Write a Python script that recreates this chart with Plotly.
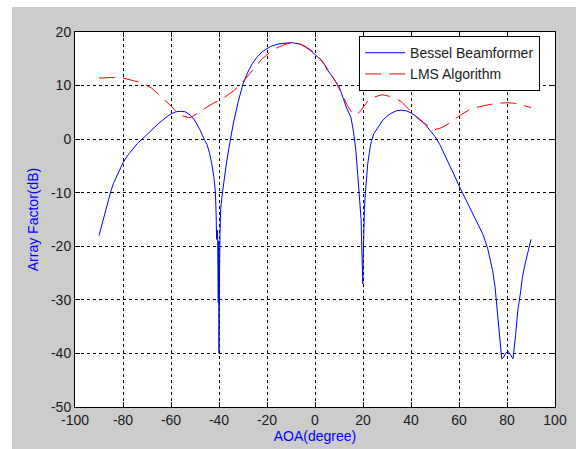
import plotly.graph_objects as go

# Bessel beamformer array factor (dB)
bessel_aoa = [-90, -89, -88, -87, -86, -85, -84, -82, -80, -78, -76, -74, -72, -68, -65, -62, -60, -58,
              -56, -54, -52, -50, -48, -46, -45, -44, -43, -42, -41.5, -41.2, -41.0, -40.6, -40.4, -40.3,
              -40.1, -40.0, -39.9, -39.6, -39.3, -38.7, -38, -37, -36, -35, -34, -32, -30, -28, -26, -24,
              -22, -20, -18, -15, -12, -10, -8, -6, -4, -2, 0, 2, 4, 5, 7, 9, 10, 11, 12, 13, 14, 15, 16,
              16.5, 17, 17.8, 18.5, 19, 19.2, 19.6, 19.9, 20.1, 20.3, 20.6, 21, 21.4, 22, 23, 23.5, 24.5,
              26, 28, 30, 32, 34, 36, 38, 40, 42, 44, 46, 48, 50, 52, 54, 56, 58, 60, 62, 64, 66, 68, 70,
              72, 74, 75, 76, 77, 77.8, 78.5, 79.5, 80.5, 81.5, 82.5, 83.6, 84.5, 85.7, 86.5, 87.8, 89, 90]
bessel_db = [-18.0, -16.3, -14.5, -12.8, -11.0, -9.6, -8.3, -6.2, -4.4, -3.0, -1.8, -0.8, 0.0, 1.8, 3.0,
             4.1, 4.7, 5.1, 5.2, 5.1, 4.5, 3.4, 1.8, -0.2, -1.0, -2.5, -4.6, -7.5, -10.0, -14.0, -18.7,
             -17.0, -22.0, -30.5, -19.0, -40.0, -30.0, -18.0, -13.0, -10.5, -7.8, -4.8, -2.0, 0.5, 3.0,
             7.0, 10.3, 12.5, 14.2, 15.4, 16.3, 16.9, 17.4, 17.8, 18.0, 18.0, 17.9, 17.7, 17.2, 16.6,
             15.8, 15.0, 13.9, 13.0, 11.8, 10.5, 9.8, 8.6, 7.1, 6.0, 5.0, 4.0, 1.5, 0.0, -2.0, -6.6,
             -10.5, -13.5, -15.0, -22.0, -27.0, -22.0, -15.6, -13.0, -10.0, -7.8, -4.5, -1.5, -0.4, 1.0,
             2.1, 3.4, 4.3, 4.9, 5.3, 5.4, 5.3, 4.9, 4.3, 3.6, 2.7, 1.6, 0.5, -1.0, -2.8, -4.7, -6.7,
             -8.7, -10.5, -12.5, -14.0, -16.0, -17.8, -20.5, -24.5, -27.5, -32.0, -36.5, -41.0, -40.8,
             -39.9, -39.6, -40.3, -41.0, -36.5, -32.0, -28.4, -25.5, -22.8, -20.5, -18.7]

# LMS algorithm array factor (dB)
lms_aoa = [-90, -85, -80, -76, -72, -68, -66, -63, -60, -58, -55, -52, -50, -48, -45, -42, -39, -37, -34,
           -31, -28, -25, -22, -19, -16, -13, -10, -7, -4, -2, 0, 3, 5, 7, 9, 11, 12, 13.5, 15, 17, 18.5,
           20, 22, 25, 28, 31, 34, 36, 39, 41, 43, 45.5, 48, 50, 52, 55, 58, 61, 64, 68, 72, 76, 80, 83,
           86, 89, 90]
lms_db = [11.4, 11.5, 11.4, 11.0, 10.5, 9.5, 8.7, 7.5, 6.2, 5.2, 4.3, 4.0, 4.5, 5.1, 6.0, 6.8, 7.4, 8.0,
          9.0, 10.2, 11.8, 13.5, 15.0, 16.1, 17.0, 17.6, 18.0, 17.9, 17.3, 16.7, 16.0, 14.6, 13.3, 11.9,
          10.4, 8.6, 7.4, 6.3, 5.2, 4.5, 5.0, 6.0, 7.1, 7.9, 8.3, 8.0, 7.5, 7.0, 5.7, 4.7, 3.8, 3.0, 2.2,
          1.8, 2.0, 2.7, 3.7, 4.6, 5.4, 6.0, 6.4, 6.7, 6.8, 6.7, 6.4, 6.0, 5.9]

x_ticks = [-100, -80, -60, -40, -20, 0, 20, 40, 60, 80, 100]
y_ticks = [-50, -40, -30, -20, -10, 0, 10, 20]

FONT = "Arial, Liberation Sans, sans-serif"
GRAY = "#cccccc"

fig = go.Figure()
fig.add_trace(go.Scatter(x=bessel_aoa, y=bessel_db, mode="lines", name="Bessel Beamformer",
                         line=dict(color="#0000ff", width=1)))
fig.add_trace(go.Scatter(x=lms_aoa, y=lms_db, mode="lines", name="LMS Algorithm",
                         line=dict(color="#ff0000", width=1, dash="16px,8px")))

axis_common = dict(showline=True, linecolor="black", linewidth=1, mirror="ticks",
                   ticks="inside", ticklen=5, tickcolor="black", automargin=False,
                   showgrid=True, gridcolor="black", gridwidth=1, griddash="3px,3px",
                   zeroline=False, tickfont=dict(family=FONT, size=14, color="#1a1a1a"))

fig.update_xaxes(range=[-100, 100], tickvals=x_ticks, ticktext=[str(v) for v in x_ticks],
                 title=dict(text="AOA(degree)", font=dict(family=FONT, size=14, color="#0000ff"),
                            standoff=4),
                 **axis_common)
fig.update_yaxes(range=[-50, 20], tickvals=y_ticks, ticktext=[str(v) for v in y_ticks],
                 title=dict(text="Array Factor(dB)", font=dict(family=FONT, size=14, color="#0000ff"),
                            standoff=9),
                 **axis_common)

fig.add_shape(type="rect", xref="paper", yref="paper", x0=-0.3, x1=-0.13125, y0=-0.3, y1=1.3,
              fillcolor="white", line=dict(width=0), layer="below")
fig.add_shape(type="rect", xref="paper", yref="paper", x0=-0.3, x1=1.3, y0=1.0667, y1=1.3,
              fillcolor="white", line=dict(width=0), layer="below")

fig.update_layout(
    width=576, height=449,
    margin=dict(l=75, r=21, t=32, b=42, autoexpand=False),
    paper_bgcolor=GRAY, plot_bgcolor="white",
    font=dict(family=FONT, size=14, color="#1a1a1a"),
    showlegend=True,
    legend=dict(x=0.969, y=0.989, xanchor="right", yanchor="top",
                bgcolor="white", bordercolor="black", borderwidth=1,
                font=dict(family=FONT, size=14, color="#1a1a1a"),
                tracegroupgap=0, itemwidth=40),
)

fig.write_html("out.html", config={"displayModeBar": False},
               post_script="document.body.style.margin='0';document.body.style.overflow='hidden';")
